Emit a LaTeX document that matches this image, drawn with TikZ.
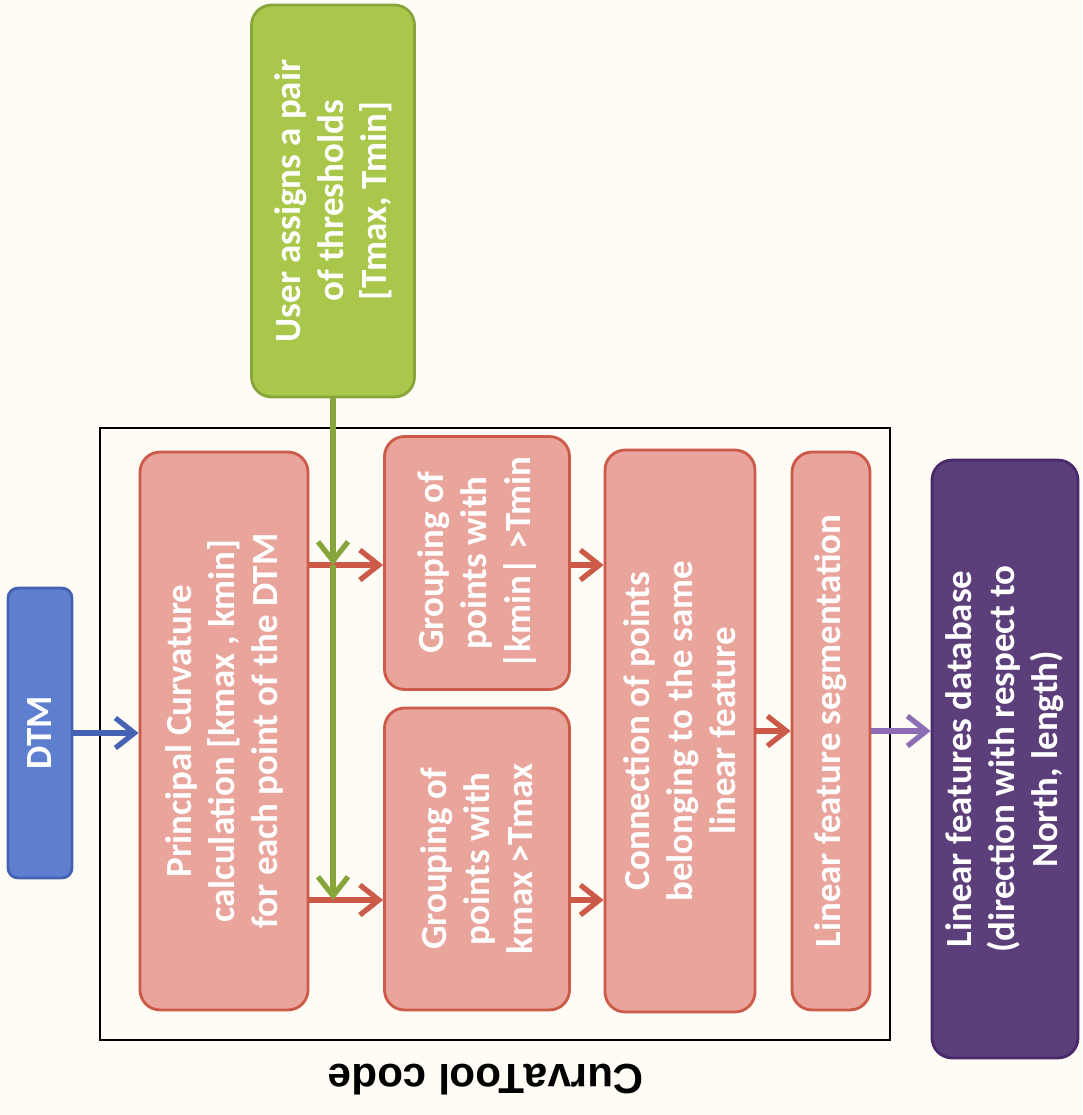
\documentclass[tikz,border=0pt]{standalone}
\usepackage{fontspec}
\setmainfont{Carlito}
\newfontfamily\titlefont{Liberation Sans}
\usetikzlibrary{arrows.meta}

\definecolor{paper}{HTML}{FEFCF5}
\definecolor{redfill}{HTML}{E9A49C}
\definecolor{rededge}{HTML}{CC5A49}
\definecolor{greenfill}{HTML}{A9C84B}
\definecolor{greenedge}{HTML}{87A53A}
\definecolor{bluefill}{HTML}{5E7ECF}
\definecolor{blueedge}{HTML}{4662B3}
\definecolor{purplefill}{HTML}{5C3E7B}
\definecolor{purpleedge}{HTML}{49296A}
\definecolor{purplearrow}{HTML}{8C6DB3}

\tikzset{
  box/.style={rotate=90, rounded corners=0.4cm, align=center, inner sep=0pt,
    text=white, line width=1.6pt, font=\fontsize{21}{24.5}\selectfont\bfseries},
  procbox/.style={box, fill=redfill, draw=rededge},
  userbox/.style={box, fill=greenfill, draw=greenedge},
  inbox/.style={box, fill=bluefill, draw=blueedge, rounded corners=0.2cm},
  outbox/.style={box, fill=purplefill, draw=purpleedge},
  flow/.style={line width=3pt, -{Straight Barb[length=3.8mm,width=6mm]}}
}

\begin{document}
\begin{tikzpicture}[x=0.02cm,y=-0.02cm]
% page
\fill [paper] (0,0) rectangle (1082,1115);
\useasboundingbox (0,0) rectangle (1082,1115);
% frame and title
\draw [line width=1.3pt] (100,428) rectangle (890,1040);
\node [rotate=180, font=\titlefont\fontsize{24}{28}\selectfont\bfseries] (title) at (486,1080) {CurvaTool code};
% boxes
\node [inbox, minimum width=5.8cm, minimum height=1.28cm] (dtm) at (40,733) {DTM};
\node [userbox, minimum width=7.84cm, minimum height=3.26cm] (user) at (333,201)
  {User assigns a pair\\ of thresholds\\ {[}Tmax, Tmin{]}};
\node [procbox, minimum width=11.16cm, minimum height=3.36cm] (princ) at (224,731)
  {Principal Curvature\\ calculation {[}kmax , kmin{]}\\ for each point of the DTM};
\node [procbox, minimum width=5.06cm, minimum height=3.7cm] (gmin) at (477,563)
  {Grouping of\\ points with\\ |kmin| >Tmin};
\node [procbox, minimum width=6.04cm, minimum height=3.7cm] (gmax) at (477,859)
  {Grouping of\\ points with\\ kmax >Tmax};
\node [procbox, minimum width=11.24cm, minimum height=3.0cm] (conn) at (680,731)
  {Connection of points\\ belonging to the same\\ linear feature};
\node [procbox, minimum width=11.16cm, minimum height=1.56cm] (seg) at (831,731)
  {Linear feature segmentation};
\node [outbox, minimum width=11.96cm, minimum height=2.92cm] (db) at (1005,759)
  {Linear features database\\ (direction with respect to\\ North, length)};
% arrow levels
\coordinate (upper) at (0,565);
\coordinate (lower) at (0,900);
% arrows
\draw [flow, blueedge] (dtm.south) -- (princ.north |- dtm.south);
\draw [flow, rededge] (princ.south |- upper) -- (gmin.north |- upper);
\draw [flow, rededge] (princ.south |- lower) -- (gmax.north |- lower);
\draw [flow, rededge] (gmin.south |- upper) -- (conn.north |- upper);
\draw [flow, rededge] (gmax.south |- lower) -- (conn.north |- lower);
\draw [flow, rededge] (conn.south) -- (seg.north);
\draw [flow, purplearrow] (seg.south) -- (db.north |- seg.south);
\draw [flow, greenedge] (user.west) -- (user.west |- upper);
\draw [flow, greenedge] (user.west |- upper) -- (user.west |- lower);
\end{tikzpicture}
\end{document}
